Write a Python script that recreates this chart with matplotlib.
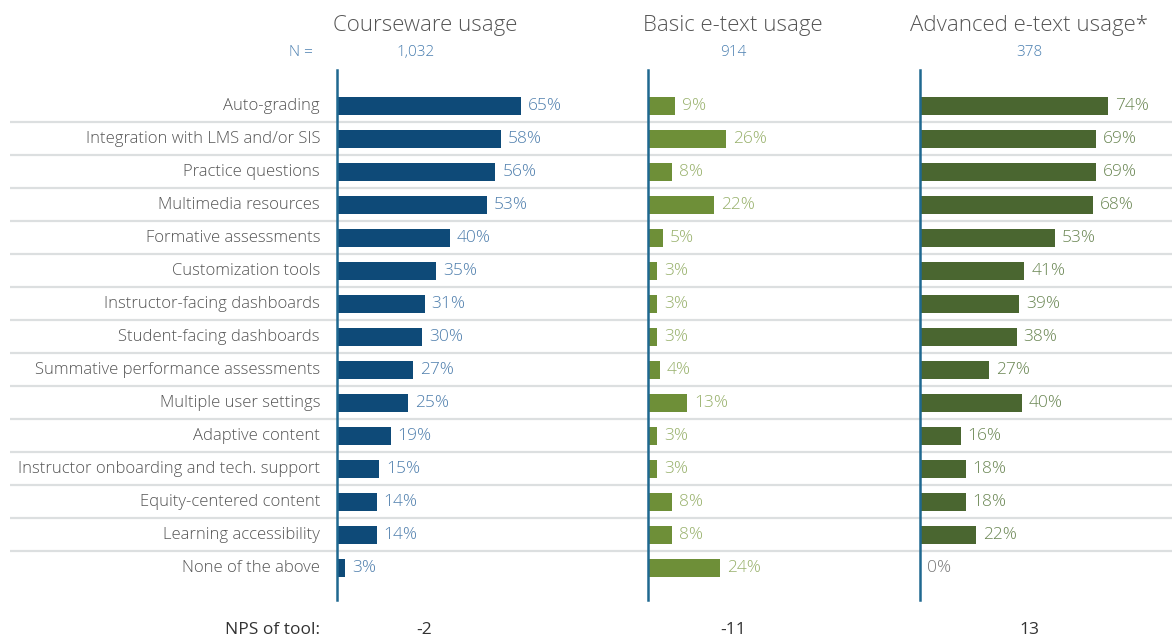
import matplotlib.pyplot as plt

# data
categories = ["Auto-grading", "Integration with LMS and/or SIS", "Practice questions",
              "Multimedia resources", "Formative assessments", "Customization tools",
              "Instructor-facing dashboards", "Student-facing dashboards",
              "Summative performance assessments", "Multiple user settings",
              "Adaptive content", "Instructor onboarding and tech. support",
              "Equity-centered content", "Learning accessibility", "None of the above"]
courseware = [65, 58, 56, 53, 40, 35, 31, 30, 27, 25, 19, 15, 14, 14, 3]
basic = [9, 26, 8, 22, 5, 3, 3, 3, 4, 13, 3, 3, 8, 8, 24]
advanced = [74, 69, 69, 68, 53, 41, 39, 38, 27, 40, 16, 18, 18, 22, 0]
titles = ["Courseware usage", "Basic e-text usage", "Advanced e-text usage*"]
n_values = ["1,032", "914", "378"]
nps_values = ["-2", "-11", "13"]

plt.rcParams['font.family'] = ['Open Sans', 'DejaVu Sans']

W, H = 1172, 638
fig = plt.figure(figsize=(W / 100, H / 100), dpi=100)

def fx(px):
    return px / W

def fy(py):
    return 1 - py / H

n = len(categories)
top_px, bot_px = 70, 600
ylim = (n - 1 + 0.97, -1.09)

# background axes: row separators and category labels
bg = fig.add_axes([0, fy(bot_px), 1, (bot_px - top_px) / H], zorder=0)
bg.set_xlim(0, W)
bg.set_ylim(*ylim)
bg.axis('off')
for i in range(n - 1):
    bg.plot([10, W], [i + 0.5, i + 0.5], color='#dcdfe0', lw=1.6, solid_capstyle='butt')
for i, c in enumerate(categories):
    bg.text(320, i, c, ha='right', va='center', fontsize=12, color='#555555', fontweight='light')

# panels: left px, right px, xmax, bar colour, label colour, title centre
panels = [
    (337, 648, 110, '#0e4a78', '#4f7fad', 425, courseware),
    (648, 920, 90.7, '#6e8f38', '#97b06a', 733, basic),
    (920, 1172, 99, '#4a6630', '#6a8653', 1029, advanced),
]

for k, (l, r, xmax, bc, lc, cx, vals) in enumerate(panels):
    ax = fig.add_axes([fx(l), fy(bot_px), (r - l) / W, (bot_px - top_px) / H], zorder=1)
    ax.patch.set_alpha(0)
    ax.set_xlim(0, xmax)
    ax.set_ylim(*ylim)
    ax.barh(range(n), vals, height=0.52, color=bc, zorder=2)
    for i, v in enumerate(vals):
        col = lc if v > 0 else '#777777'
        ax.annotate(f"{v}%", (v, i), xytext=(5, 0), textcoords='offset points',
                    ha='left', va='center', fontsize=12.5, color=col, fontweight='light')
    for s in ['top', 'right', 'bottom']:
        ax.spines[s].set_visible(False)
    ax.spines['left'].set_color('#1f6890')
    ax.spines['left'].set_linewidth(1.8)
    ax.set_xticks([])
    ax.set_yticks([])
    fig.text(fx(cx), fy(25), titles[k], ha='center', va='center', fontsize=16,
             color='#555555', fontweight='light')
    nx = 416 if k == 0 else cx
    fig.text(fx(nx), fy(53), n_values[k], ha='center', va='center', fontsize=11,
             color='#4a7fb0', fontweight='light')
    px = 424 if k == 0 else cx
    fig.text(fx(px), fy(630), nps_values[k], ha='center', va='center', fontsize=12.5,
             color='#333333')

fig.text(fx(313), fy(53), "N =", ha='right', va='center', fontsize=11, color='#4a7fb0',
         fontweight='light')
fig.text(fx(320), fy(630), "NPS of tool:", ha='right', va='center', fontsize=12.5, color='#333333')

fig.savefig("out.png", dpi=100)
